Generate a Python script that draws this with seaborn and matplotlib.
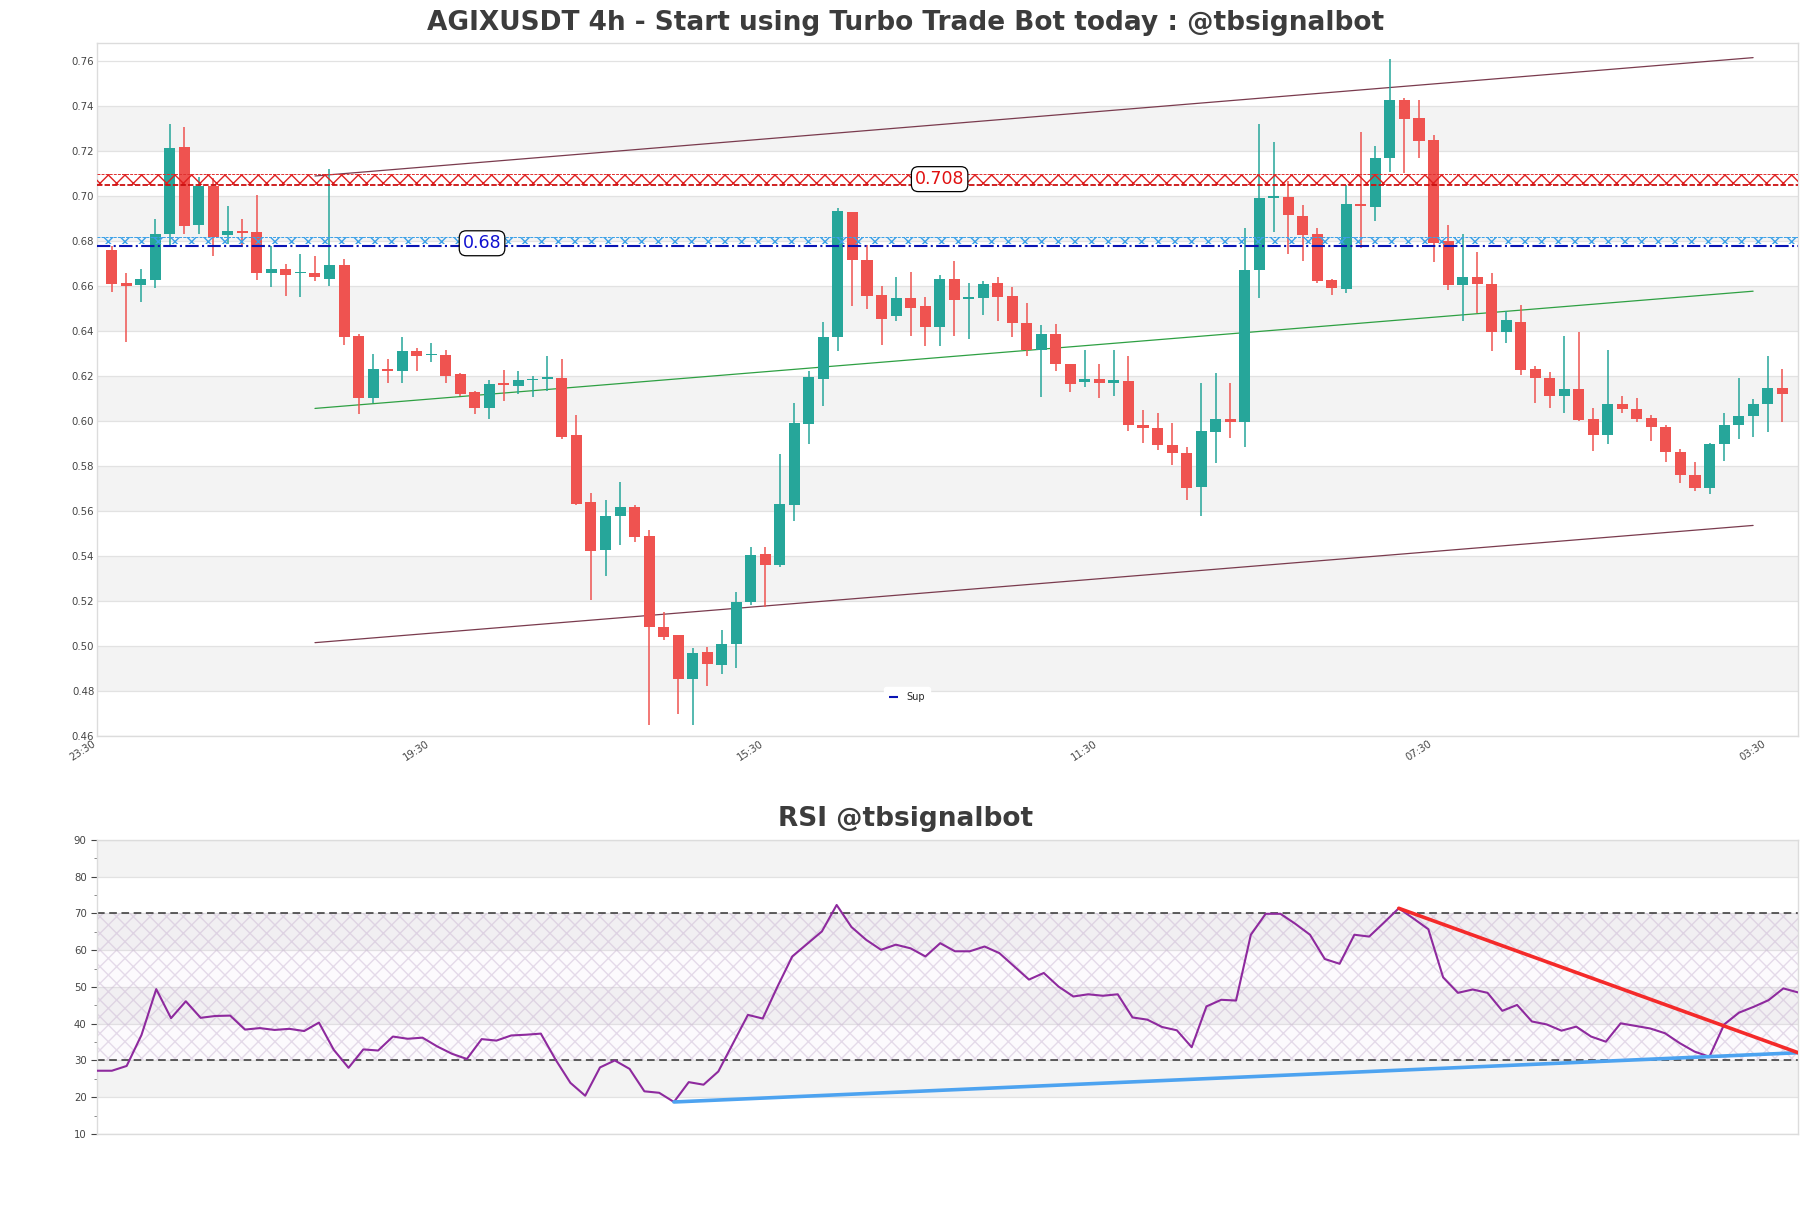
import numpy as np
import pandas as pd
import matplotlib
matplotlib.use("Agg")
import matplotlib.pyplot as plt
import seaborn as sns

# ---------------- data ----------------
opens = [0.6761, 0.6612, 0.6604, 0.6628, 0.6830, 0.7219, 0.6870, 0.7046, 0.6826, 0.6842,
         0.6842, 0.6658, 0.6677, 0.6656, 0.6656, 0.6632, 0.6695, 0.6380, 0.6102, 0.6229,
         0.6221, 0.6312, 0.6293, 0.6294, 0.6207, 0.6130, 0.6060, 0.6166, 0.6154, 0.6181,
         0.6185, 0.6193, 0.5940, 0.5640, 0.5428, 0.5576, 0.5620, 0.5487, 0.5084, 0.5047,
         0.4852, 0.4975, 0.4916, 0.5007, 0.5195, 0.5408, 0.5362, 0.5626, 0.5985, 0.6187,
         0.6374, 0.6929, 0.6717, 0.6562, 0.6465, 0.6546, 0.6509, 0.6416, 0.6632, 0.6544,
         0.6548, 0.6612, 0.6556, 0.6437, 0.6316, 0.6388, 0.6253, 0.6173, 0.6185, 0.6170,
         0.6176, 0.5983, 0.5971, 0.5892, 0.5860, 0.5705, 0.5949, 0.6009, 0.5997, 0.6670,
         0.6993, 0.6995, 0.6912, 0.6832, 0.6626, 0.6588, 0.6963, 0.6949, 0.7167, 0.7427,
         0.7348, 0.7247, 0.6802, 0.6604, 0.6642, 0.6609, 0.6394, 0.6441, 0.6231, 0.6189,
         0.6109, 0.6142, 0.6010, 0.5939, 0.6076, 0.6054, 0.6014, 0.5974, 0.5863, 0.5762,
         0.5704, 0.5897, 0.5981, 0.6023, 0.6074, 0.6147]
highs = [0.6777, 0.6656, 0.6677, 0.6896, 0.7322, 0.7306, 0.7084, 0.7080, 0.6957, 0.6896,
         0.7005, 0.6777, 0.6697, 0.6743, 0.6735, 0.7118, 0.6719, 0.6386, 0.6298, 0.6275,
         0.6374, 0.6324, 0.6346, 0.6316, 0.6215, 0.6134, 0.6181, 0.6225, 0.6223, 0.6201,
         0.6291, 0.6277, 0.6027, 0.5679, 0.5650, 0.5729, 0.5626, 0.5517, 0.5150, 0.5051,
         0.4991, 0.4995, 0.5070, 0.5239, 0.5438, 0.5442, 0.5854, 0.6082, 0.6221, 0.6439,
         0.6945, 0.6929, 0.6782, 0.6598, 0.6638, 0.6664, 0.6552, 0.6648, 0.6713, 0.6614,
         0.6624, 0.6642, 0.6596, 0.6525, 0.6426, 0.6430, 0.6253, 0.6316, 0.6255, 0.6316,
         0.6287, 0.6049, 0.6037, 0.5989, 0.5884, 0.6168, 0.6215, 0.6168, 0.6856, 0.7322,
         0.7239, 0.7068, 0.6959, 0.6856, 0.6632, 0.7050, 0.7283, 0.7223, 0.7610, 0.7435,
         0.7425, 0.7273, 0.6870, 0.6830, 0.6753, 0.6656, 0.6487, 0.6516, 0.6246, 0.6218,
         0.6379, 0.6395, 0.6056, 0.6317, 0.6109, 0.6102, 0.6025, 0.5981, 0.5875, 0.5819,
         0.5903, 0.6036, 0.6189, 0.6098, 0.6288, 0.6231]
lows = [0.6572, 0.6350, 0.6529, 0.6592, 0.6783, 0.6832, 0.6832, 0.6733, 0.6787, 0.6783,
        0.6628, 0.6594, 0.6556, 0.6552, 0.6622, 0.6600, 0.6340, 0.6029, 0.6082, 0.6171,
        0.6171, 0.6221, 0.6261, 0.6171, 0.6112, 0.6029, 0.6009, 0.6088, 0.6122, 0.6106,
        0.6132, 0.5918, 0.5626, 0.5203, 0.5312, 0.5447, 0.5463, 0.4650, 0.5027, 0.4697,
        0.4648, 0.4822, 0.4876, 0.4902, 0.5183, 0.5173, 0.5352, 0.5556, 0.5898, 0.6066,
        0.6310, 0.6509, 0.6499, 0.6340, 0.6445, 0.6380, 0.6334, 0.6334, 0.6380, 0.6364,
        0.6473, 0.6445, 0.6374, 0.6291, 0.6108, 0.6221, 0.6128, 0.6152, 0.6102, 0.6112,
        0.5957, 0.5904, 0.5870, 0.5804, 0.5650, 0.5576, 0.5814, 0.5924, 0.5884, 0.6548,
        0.6842, 0.6741, 0.6711, 0.6612, 0.6558, 0.6568, 0.6771, 0.6890, 0.7108, 0.7104,
        0.7167, 0.6707, 0.6584, 0.6445, 0.6478, 0.6310, 0.6346, 0.6206, 0.6080, 0.6058,
        0.6036, 0.6001, 0.5868, 0.5897, 0.6036, 0.5996, 0.5912, 0.5819, 0.5726, 0.5687,
        0.5676, 0.5824, 0.5919, 0.5930, 0.5952, 0.5994]
closes = [0.6608, 0.6600, 0.6632, 0.6832, 0.7215, 0.6866, 0.7046, 0.6820, 0.6846, 0.6836,
          0.6658, 0.6677, 0.6648, 0.6658, 0.6640, 0.6695, 0.6372, 0.6102, 0.6229, 0.6221,
          0.6312, 0.6290, 0.6299, 0.6201, 0.6118, 0.6060, 0.6166, 0.6160, 0.6181, 0.6187,
          0.6195, 0.5930, 0.5632, 0.5424, 0.5580, 0.5620, 0.5483, 0.5086, 0.5041, 0.4852,
          0.4971, 0.4922, 0.5011, 0.5195, 0.5404, 0.5362, 0.5632, 0.5989, 0.6195, 0.6374,
          0.6935, 0.6715, 0.6554, 0.6453, 0.6546, 0.6501, 0.6416, 0.6632, 0.6539, 0.6548,
          0.6608, 0.6552, 0.6437, 0.6316, 0.6388, 0.6253, 0.6166, 0.6185, 0.6170, 0.6181,
          0.5983, 0.5969, 0.5892, 0.5856, 0.5703, 0.5957, 0.6009, 0.5997, 0.6672, 0.6993,
          0.6995, 0.6916, 0.6826, 0.6624, 0.6590, 0.6965, 0.6955, 0.7170, 0.7427, 0.7344,
          0.7243, 0.6792, 0.6604, 0.6640, 0.6607, 0.6394, 0.6450, 0.6226, 0.6191, 0.6109,
          0.6142, 0.6005, 0.5939, 0.6076, 0.6052, 0.6010, 0.5972, 0.5861, 0.5760, 0.5704,
          0.5899, 0.5983, 0.6023, 0.6076, 0.6147, 0.6120]

rsi_values = [27.2, 27.2, 28.5, 36.9, 49.4, 41.5, 46.1, 41.6, 42.1, 42.2,
              38.4, 38.8, 38.3, 38.6, 38.0, 40.3, 32.9, 28.0, 33.0, 32.7,
              36.5, 35.9, 36.2, 33.8, 31.8, 30.4, 35.8, 35.4, 36.8, 37.0,
              37.3, 30.2, 23.9, 20.4, 28.1, 30.0, 27.7, 21.6, 21.2, 18.7,
              24.1, 23.4, 27.0, 34.7, 42.4, 41.4, 50.1, 58.3, 61.7, 65.1,
              72.3, 66.3, 62.8, 60.1, 61.5, 60.5, 58.3, 61.9, 59.7, 59.7,
              61.0, 59.2, 55.6, 52.0, 53.8, 50.1, 47.4, 48.0, 47.6, 48.0,
              41.7, 41.1, 39.1, 38.2, 33.6, 44.7, 46.5, 46.3, 64.2, 69.9,
              69.9, 67.2, 64.2, 57.6, 56.3, 64.2, 63.7, 67.5, 71.4, 68.6,
              65.7, 52.6, 48.4, 49.3, 48.4, 43.5, 45.1, 40.6, 39.8, 38.1,
              39.2, 36.5, 35.1, 40.1, 39.4, 38.7, 37.4, 34.7, 32.4, 31.0,
              39.8, 43.0, 44.6, 46.4, 49.6, 48.5]

tick_labels = ["23:30", "19:30", "15:30", "11:30", "07:30", "03:30"]
tick_index = [-1, 22, 45, 68, 91, 114]

# channel lines (start index, end index, start price, end price)
upper_line = [14, 113, 0.7089, 0.7615]
middle_line = [14, 113, 0.6056, 0.6577]
lower_line = [14, 113, 0.5015, 0.5536]

# levels
res_level = 0.7075
res_text = "0.708"
sup_level = 0.6790
sup_text = "0.68"

# RSI trend lines
rsi_support = [39, 115, 18.7, 32.1]
rsi_resist = [88, 115, 71.4, 32.1]

title_main = "AGIXUSDT 4h - Start using Turbo Trade Bot today : @tbsignalbot"
title_rsi = "RSI @tbsignalbot"

# ---------------- style ----------------
sns.set_theme(style="white")
plt.rcParams['font.family'] = ['DejaVu Sans']
plt.rcParams['hatch.linewidth'] = 1.0

UP = "#26a69a"
DOWN = "#ef5350"
BAND = "#f3f3f3"
GRID = "#e2e2e2"
SPINE = "#dcdcdc"
TXT = "#444444"

df = pd.DataFrame({"open": opens, "high": highs, "low": lows, "close": closes})
df["x"] = np.arange(len(df))
n = len(df)

fig = plt.figure(figsize=(18.11, 12.08), dpi=100)
ax = fig.add_axes([0.0536, 0.3907, 0.9393, 0.5737])
ax2 = fig.add_axes([0.0536, 0.0613, 0.9393, 0.2434])

# ---------------- main panel ----------------
xmin, xmax = -1, n + 0.1
ax.set_xlim(xmin, xmax)
ax.set_ylim(0.46, 0.768)
yt = np.round(np.arange(0.46, 0.7601, 0.02), 2)
for i in range(len(yt) - 1):
    if i % 2 == 1:
        ax.axhspan(yt[i], yt[i + 1], color=BAND, lw=0, zorder=0)
for y in yt:
    ax.axhline(y, color=GRID, lw=0.9, zorder=0.5)

ax.set_yticks(yt)
ax.set_yticklabels([f"{v:.2f}" for v in yt])
ax.set_xticks(tick_index)
ax.set_xticklabels(tick_labels, rotation=33, ha="right")
ax.tick_params(axis="both", labelsize=7.3, colors=TXT, length=0, pad=2)
for s in ax.spines.values():
    s.set_color(SPINE)
    s.set_linewidth(1)

# channel lines
for ln, col in [(upper_line, "#7a3b4e"), (middle_line, "#2ea043"), (lower_line, "#7a3b4e")]:
    seg = pd.DataFrame({"x": [ln[0], ln[1]], "y": [ln[2], ln[3]]})
    sns.lineplot(data=seg, x="x", y="y", ax=ax, color=col, lw=0.9, zorder=2)

# candles
up = df["close"] >= df["open"]
colors = np.where(up, UP, DOWN)
body_lo = np.minimum(df["open"], df["close"])
body_h = np.maximum(np.abs(df["close"] - df["open"]), 0.0007)
ax.vlines(df["x"], df["low"], df["high"], colors=colors, lw=1.1, zorder=3)
ax.bar(df["x"], body_h, bottom=body_lo, width=0.76, color=colors, lw=0, zorder=3.5)

# resistance / support hatch bands
r_lo, r_hi = res_level * 0.9965, res_level * 1.0035
ax.fill_between([xmin, xmax], r_lo, r_hi, facecolor="none",
                edgecolor="#e02020", hatch="xx", lw=0, zorder=4)
ax.axhline(r_lo, color="#cc1010", lw=1.3, ls=(0, (3, 1.2)), zorder=4)
ax.axhline(r_hi, color="#e03030", lw=0.7, ls=(0, (3, 1.2)), zorder=4)
s_lo, s_hi = sup_level * 0.9995, sup_level * 1.004
ax.fill_between([xmin, xmax], s_lo, s_hi, facecolor="none",
                edgecolor="#3aa0e8", hatch="xx", lw=0, zorder=4)
ax.axhline(s_hi, color="#3aa0e8", lw=0.7, ls=(0, (3, 1.2)), zorder=4)
ax.axhline(sup_level * 0.998, color="#0a14b4", lw=1.5, ls="-.", zorder=4, label="Sup")

ax.text(57, res_level, res_text, color="#e01010", fontsize=12.5, ha="center", va="center",
        zorder=6, bbox=dict(boxstyle="round,pad=0.2,rounding_size=0.4", fc="white", ec="black", lw=0.9))
ax.text(25.5, sup_level, sup_text, color="#1010d0", fontsize=12.5, ha="center", va="center",
        zorder=6, bbox=dict(boxstyle="round,pad=0.2,rounding_size=0.4", fc="white", ec="black", lw=0.9))

leg = ax.legend(loc="lower center", bbox_to_anchor=(0.476, 0.035), fontsize=7,
                frameon=True, handlelength=1.0, borderpad=0.5, fancybox=True)
leg.get_frame().set_edgecolor("white")
leg.get_frame().set_facecolor("white")
leg.get_frame().set_alpha(1)
ax.set_xlabel("")
ax.set_ylabel("")

fig.text(0.5, 0.981, title_main, ha="center", va="center", fontsize=19,
         fontweight="bold", color="#3c3c3c")

# ---------------- RSI panel ----------------
rs = pd.DataFrame({"i": np.arange(len(rsi_values)), "rsi": rsi_values})
ax2.set_xlim(0, len(rsi_values) - 1)
ax2.set_ylim(10, 90)
for lo in [20, 40, 60, 80]:
    ax2.axhspan(lo, lo + 10, color=BAND, lw=0, zorder=0)
for y in range(10, 91, 10):
    ax2.axhline(y, color=GRID, lw=0.9, zorder=0.5)
ax2.fill_between([0, len(rsi_values) - 1], 30, 70, facecolor=(0.85, 0.7, 0.9, 0.06),
                 edgecolor=(0.78, 0.70, 0.82, 0.45), hatch="xx", lw=0, zorder=1)
ax2.axhline(30, color="#333333", lw=1.1, ls=(0, (5, 3)), zorder=2)
ax2.axhline(70, color="#333333", lw=1.1, ls=(0, (5, 3)), zorder=2)

sns.lineplot(data=rs, x="i", y="rsi", ax=ax2, color="#8e2a9e", lw=1.5, zorder=3)
for ln, col in [(rsi_support, "#4da3f0"), (rsi_resist, "#f42a2a")]:
    seg = pd.DataFrame({"x": [ln[0], ln[1]], "y": [ln[2], ln[3]]})
    sns.lineplot(data=seg, x="x", y="y", ax=ax2, color=col, lw=2.6, zorder=4)

ax2.set_yticks(range(10, 91, 10))
ax2.set_yticks(range(15, 90, 10), minor=True)
ax2.set_xticks([])
ax2.tick_params(axis="y", which="major", labelsize=7.3, colors=TXT, length=4, width=0.8, left=True)
ax2.tick_params(axis="y", which="minor", length=2, width=0.6, colors="#777777", left=True)
ax2.set_xlabel("")
ax2.set_ylabel("")
for s in ax2.spines.values():
    s.set_color(SPINE)
    s.set_linewidth(1)

fig.text(0.5, 0.322, title_rsi, ha="center", va="center", fontsize=19,
         fontweight="bold", color="#3c3c3c")

fig.savefig("out.png", dpi=100)
